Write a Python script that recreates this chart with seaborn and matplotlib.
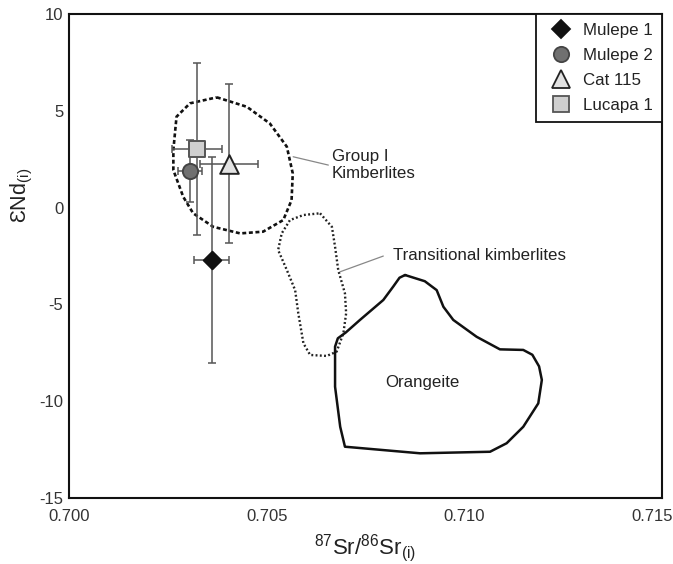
import matplotlib
matplotlib.use("Agg")
import matplotlib.pyplot as plt
import matplotlib.transforms as mtransforms
import seaborn as sns
import pandas as pd
from matplotlib.lines import Line2D
from matplotlib.ticker import MultipleLocator

sns.set_style("white")
plt.rcParams['font.family'] = ['Liberation Sans', 'DejaVu Sans']
plt.rcParams['mathtext.default'] = 'regular'
plt.rcParams['axes.unicode_minus'] = False

# ---- sample data ----
samples = ["Mulepe 1", "Mulepe 2", "Cat 115", "Lucapa 1"]
sr = [0.70361, 0.70307, 0.70405, 0.70324]
nd = [-2.71, 1.91, 2.27, 3.02]
sr_err = [0.00044, 0.00030, 0.00074, 0.00063]
nd_err = [5.32, 1.60, 4.10, 4.45]
markers = ["D", "o", "^", "s"]
face_colors = ["#111111", "#707070", "#e2e2e2", "#cfcfcf"]
edge_colors = ["#111111", "#444444", "#222222", "#555555"]
marker_sizes = [80, 120, 180, 140]
legend_ms = [8.7, 11.0, 13.5, 11.0]

# ---- field outlines ----
group1_sr = [0.70374, 0.70450, 0.70508, 0.70551, 0.70566, 0.70563, 0.70542, 0.70491,
             0.70433, 0.70365, 0.70314, 0.70289, 0.70264, 0.70264, 0.70272, 0.70306]
group1_nd = [5.70, 5.21, 4.35, 3.15, 1.77, 0.39, -0.64, -1.24,
             -1.33, -0.99, -0.29, 0.56, 1.94, 2.98, 4.70, 5.39]

trans_sr = [0.70635, 0.70665, 0.70673, 0.70681, 0.70698, 0.70701, 0.70694, 0.70677,
            0.70652, 0.70610, 0.70593, 0.70580, 0.70572, 0.70551, 0.70529, 0.70538,
            0.70559, 0.70593]
trans_nd = [-0.29, -0.99, -2.02, -3.22, -4.43, -5.46, -6.49, -7.44,
            -7.66, -7.61, -7.01, -5.46, -4.26, -3.22, -2.19, -1.33,
            -0.64, -0.38]

orang_sr = [0.70850, 0.70900, 0.70930, 0.70947, 0.70972, 0.71031, 0.71090, 0.71149,
            0.71172, 0.71189, 0.71196, 0.71187, 0.71149, 0.71107, 0.71065, 0.70888,
            0.70698, 0.70686, 0.70673, 0.70673, 0.70680, 0.70700, 0.70736, 0.70795,
            0.70820, 0.70836]
orang_nd = [-3.48, -3.80, -4.26, -5.12, -5.80, -6.67, -7.32, -7.35,
            -7.60, -8.20, -8.90, -10.11, -11.32, -12.17, -12.61, -12.69,
            -12.35, -11.32, -9.25, -7.18, -6.75, -6.45, -5.80, -4.77,
            -4.08, -3.62]

df = pd.DataFrame({"sample": samples, "sr": sr, "nd": nd})

fig = plt.figure(figsize=(6.73, 5.64), dpi=100)
ax = fig.add_axes([0.1025, 0.117, 0.8812, 0.858])

# field outlines
ax.plot(group1_sr + group1_sr[:1], group1_nd + group1_nd[:1], color="#111111",
        lw=1.9, ls=(0, (1.5, 1.0)), zorder=1, solid_joinstyle="round")
ax.plot(trans_sr + trans_sr[:1], trans_nd + trans_nd[:1], color="#222222",
        lw=1.7, ls=(0, (0.8, 1.0)), zorder=1)
ax.plot(orang_sr + orang_sr[:1], orang_nd + orang_nd[:1], color="#111111",
        lw=1.8, ls="-", zorder=1, solid_joinstyle="round")

# error bars
ax.errorbar(sr, nd, xerr=sr_err, yerr=nd_err, fmt="none", ecolor="#555555",
            elinewidth=1.1, capsize=3, capthick=1.1, zorder=2)

# sample markers
for i, s in enumerate(samples):
    sns.scatterplot(data=df[df["sample"] == s], x="sr", y="nd", marker=markers[i],
                    color=face_colors[i], edgecolor=edge_colors[i], linewidth=1.4,
                    s=marker_sizes[i], ax=ax, zorder=3 + i, legend=False)

# labels for fields
ax.plot([0.70567, 0.70656], [2.63, 2.20], color="#888888", lw=0.9, zorder=1)
ax.text(0.70665, 2.20, "Group I\nKimberlites", fontsize=12.2, color="#222222",
        va="center", ha="left", linespacing=1.1)
ax.plot([0.70686, 0.70795], [-3.31, -2.50], color="#888888", lw=0.9, zorder=1)
ax.text(0.70820, -2.45, "Transitional kimberlites", fontsize=12.2, color="#222222",
        va="center", ha="left")
ax.text(0.70894, -9.04, "Orangeite", fontsize=12.2, color="#222222",
        va="center", ha="center")

ax.set_xlim(0.700, 0.715)
ax.set_ylim(-15, 10)
ax.xaxis.set_minor_locator(MultipleLocator(0.001))
ax.yaxis.set_major_locator(MultipleLocator(5))
ax.yaxis.set_minor_locator(MultipleLocator(1))
ax.set_xticks([0.700, 0.705, 0.710, 0.715])
ax.set_xticklabels(["0.700", "0.705", "0.710", "0.715"])
ax.tick_params(axis="both", which="both", direction="in", length=7, width=1.3,
               colors="#111111", labelcolor="#333333", labelsize=12,
               top=False, right=False)
ax.tick_params(axis="x", which="both", pad=8)
ax.tick_params(axis="y", which="both", pad=4)
for sp in ax.spines.values():
    sp.set_visible(True)
    sp.set_color("#111111")
    sp.set_linewidth(1.5)

# last x tick label nudged left so it fits in the figure, as in the reference
last = ax.get_xticklabels()[-1]
last.set_transform(last.get_transform() +
                   mtransforms.ScaledTranslation(-10 / 100, 0, fig.dpi_scale_trans))

ax.set_xlabel(r"$^{87}$Sr/$^{86}$Sr$_{(i)}$", fontsize=16, color="#222222", labelpad=6)
ax.set_ylabel(r"ƐNd$_{(i)}$", fontsize=15.5, color="#222222")
ax.yaxis.set_label_coords(-0.057, 0.626)

handles = [Line2D([], [], ls="none", marker=markers[i], markerfacecolor=face_colors[i],
                  markeredgecolor=edge_colors[i], markeredgewidth=1.3,
                  markersize=legend_ms[i]) for i in range(4)]
leg = ax.legend(handles, samples, loc="upper right", borderaxespad=0, fontsize=12.2,
                frameon=True, fancybox=False, edgecolor="#111111", framealpha=1,
                handletextpad=0.4, labelspacing=0.58, borderpad=0.55, handlelength=1.8)
leg.get_frame().set_linewidth(1.3)
for t in leg.get_texts():
    t.set_color("#222222")

fig.savefig("out.png", dpi=100)
